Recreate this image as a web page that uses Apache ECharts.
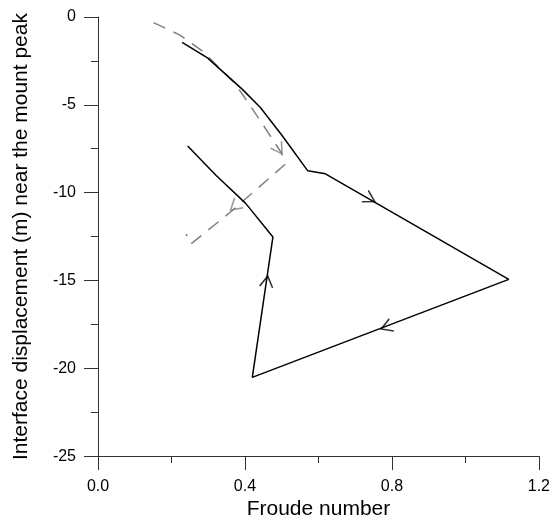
<!DOCTYPE html>
<html>
<head>
<meta charset="utf-8">
<script src="https://cdn.jsdelivr.net/npm/echarts@6/dist/echarts.min.js"></script>
<style>
html,body{margin:0;padding:0;background:#fff;}
#chart{width:553px;height:525px;}
</style>
</head>
<body>
<div id="chart"></div>
<script>
// ---- Data ----
const xAxisTitle = 'Froude number';
const yAxisTitle = 'Interface displacement (m) near the mount peak';
const xTicks = [0.0, 0.4, 0.8, 1.2];
const yTicks = [0, -5, -10, -15, -20, -25];

// solid (black) trajectory
const solidX = [0.229, 0.298, 0.393, 0.442, 0.501, 0.571, 0.619, 1.118, 0.420, 0.476, 0.402, 0.321, 0.244];
const solidY = [-1.45, -2.33, -4.12, -5.15, -6.75, -8.76, -8.93, -14.94, -20.52, -12.53, -10.61, -9.01, -7.35];

// dashed (grey) trajectory
const dashX = [0.151, 0.222, 0.289, 0.316, 0.370, 0.393, 0.442, 0.501, 0.508, 0.357, 0.253, 0.240];
const dashY = [-0.32, -1.02, -2.01, -2.61, -3.72, -4.40, -5.91, -7.79, -8.41, -11.17, -12.92, -12.36];

// direction arrows: position of tip and index of the segment they lie on
const solidArrowX = [0.753, 0.771, 0.462];
const solidArrowY = [-10.51, -17.76, -14.75];
const solidArrowSeg = [6, 7, 8];
const dashArrowX = [0.501, 0.361];
const dashArrowY = [-7.79, -10.99];
const dashArrowSeg = [6, 8];

const solidData = solidX.map((x, i) => [x, solidY[i]]);
const dashData = dashX.map((x, i) => [x, dashY[i]]);

const chart = echarts.init(document.getElementById('chart'), null, {renderer: 'canvas'});
const axisColor = '#333';
const FONT = '"Liberation Sans", Arial, sans-serif';

const option = {
  animation: false,
  backgroundColor: '#fff',
  grid: {left: 98, right: 11, top: 17, bottom: 65, containLabel: false},
  xAxis: {
    type: 'value',
    min: xTicks[0], max: xTicks[xTicks.length - 1], interval: 0.4,
    name: xAxisTitle, nameLocation: 'middle', nameGap: 42,
    nameTextStyle: {fontFamily: FONT, fontSize: 21, color: '#000'},
    axisLine: {show: true, onZero: false, lineStyle: {color: axisColor, width: 1}},
    axisTick: {show: true, inside: false, length: 14, lineStyle: {color: axisColor}},
    minorTick: {show: true, splitNumber: 2, length: 7, lineStyle: {color: axisColor}},
    splitLine: {show: false},
    axisLabel: {margin: 22, fontFamily: FONT, fontSize: 16, color: '#000',
      formatter: v => v.toFixed(1)}
  },
  yAxis: {
    type: 'value',
    min: yTicks[yTicks.length - 1], max: yTicks[0], interval: 5,
    name: yAxisTitle, nameLocation: 'middle', nameGap: 66,
    nameTextStyle: {fontFamily: FONT, fontSize: 21, color: '#000'},
    axisLine: {show: true, onZero: false, lineStyle: {color: axisColor, width: 1}},
    axisTick: {show: true, inside: false, length: 14, lineStyle: {color: axisColor}},
    minorTick: {show: true, splitNumber: 2, length: 7, lineStyle: {color: axisColor}},
    splitLine: {show: false},
    axisLabel: {margin: 22, fontFamily: FONT, fontSize: 16, color: '#000'}
  },
  series: [
    {
      type: 'line', data: dashData, showSymbol: false, symbol: 'none', z: 2,
      lineStyle: {color: '#808080', width: 1.5, type: [13, 9]}
    },
    {
      type: 'line', data: solidData, showSymbol: false, symbol: 'none', z: 3,
      lineStyle: {color: '#000', width: 1.5}
    }
  ]
};
chart.setOption(option);

function arrowData(ax, ay, segs, path) {
  return ax.map((x, i) => {
    const s = segs[i];
    const p0 = chart.convertToPixel({gridIndex: 0}, path[s]);
    const p1 = chart.convertToPixel({gridIndex: 0}, path[s + 1]);
    const dx = p1[0] - p0[0], dy = p1[1] - p0[1];
    const len = Math.hypot(dx, dy);
    const ux = dx / len, uy = dy / len;
    const ang = Math.atan2(-dy, dx) * 180 / Math.PI;
    return {
      value: [x, ay[i]],
      symbolRotate: ang - 90,
      symbolOffset: [-ux * 5.5, -uy * 5.5]
    };
  });
}

const chevron = 'path://M0,10 L5,0 L10,10';
chart.setOption({
  series: [
    option.series[0], option.series[1],
    {
      type: 'scatter', z: 4, symbol: chevron, symbolSize: [13, 11],
      data: arrowData(solidArrowX, solidArrowY, solidArrowSeg, solidData),
      itemStyle: {color: 'rgba(0,0,0,0)', borderColor: '#000', borderWidth: 1.5},
      silent: true
    },
    {
      type: 'scatter', z: 4, symbol: chevron, symbolSize: [13, 11],
      data: arrowData(dashArrowX, dashArrowY, dashArrowSeg, dashData),
      itemStyle: {color: 'rgba(0,0,0,0)', borderColor: '#808080', borderWidth: 1.5},
      silent: true
    }
  ]
});
</script>
</body>
</html>
